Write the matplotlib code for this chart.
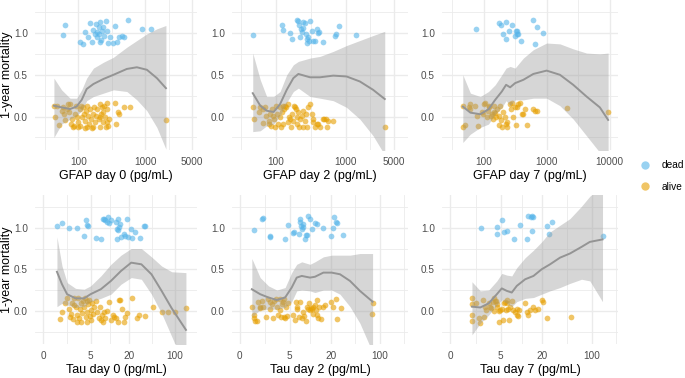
import numpy as np
import matplotlib
matplotlib.use("Agg")
import matplotlib.pyplot as plt
from matplotlib.lines import Line2D

plt.rcParams['font.family'] = ['Liberation Sans', 'DejaVu Sans']

# ---- data: (biomarker value, jittered outcome) ----
gfap0_dead = [(63, 1.09), (58, 0.98), (106, 0.89), (116, 0.87), (126, 1.01), (150, 1.12), (158, 0.89),
              (168, 1.04), (184, 1.11), (193, 1.01), (200, 0.99), (188, 0.95), (211, 1.13), (219, 0.92),
              (237, 1.07), (260, 1.14), (266, 1.02), (211, 0.89), (243, 0.97), (282, 0.88), (299, 0.95),
              (355, 1.08), (335, 0.88), (376, 0.89), (412, 0.95), (447, 0.96), (484, 0.95), (550, 1.15),
              (891, 1.05), (1216, 1.05), (202, 1.07), (226, 1.02), (178, 0.99), (141, 0.95)]
gfap0_alive = [(43, 0.13), (45, -0.01), (47, 0.13), (52, -0.10), (56, 0.07), (60, 0.03), (63, -0.04),
               (67, 0.09), (71, 0.15), (73, 0.05), (77, -0.09), (79, -0.03), (82, -0.13), (86, -0.11),
               (89, 0.03), (92, 0.13), (97, -0.07), (100, -0.13), (104, 0.09), (106, -0.11), (112, -0.01),
               (119, 0.11), (122, 0.03), (126, -0.05), (130, 0.07), (133, 0.13), (136, -0.13), (141, 0.01),
               (146, -0.09), (150, 0.09), (153, -0.03), (164, 0.03), (168, -0.13), (174, 0.12), (178, -0.07),
               (184, 0.01), (193, 0.09), (200, -0.03), (207, 0.15), (211, -0.13), (216, 0.03), (224, 0.11),
               (232, -0.06), (237, 0.05), (243, 0.13), (251, -0.01), (260, -0.13), (266, 0.16), (272, 0.09),
               (282, -0.11), (292, -0.03), (355, 0.16), (367, -0.09), (398, 0.05), (412, 0.03), (484, 0.12),
               (582, 0.11), (2042, -0.04), (158, -0.14), (108, 0.13), (126, -0.14), (94, 0.0), (75, 0.15),
               (58, 0.12), (211, 0.0), (266, -0.06)]
# smoother: (x, fit, lower, upper)
gfap0_smooth = [(43, 0.13, -0.25, 0.46), (56, 0.11, -0.09, 0.32), (75, 0.09, -0.03, 0.22), (94, 0.12, 0.01, 0.22),
                (112, 0.20, 0.07, 0.32), (133, 0.33, 0.19, 0.46), (168, 0.39, 0.24, 0.58), (237, 0.45, 0.28, 0.65),
                (335, 0.50, 0.32, 0.71), (531, 0.57, 0.30, 0.83), (750, 0.59, 0.20, 0.91), (1059, 0.56, 0.07, 0.99),
                (1496, 0.46, -0.13, 1.05), (2042, 0.34, -0.39, 1.09)]

gfap2_dead = [(46, 0.98), (121, 1.09), (125, 1.04), (159, 1.0), (168, 0.93), (202, 1.15), (209, 1.14), (216, 1.10),
              (226, 1.05), (233, 1.01), (221, 0.95), (247, 1.13), (261, 1.12), (270, 0.99), (275, 0.88), (291, 0.95),
              (301, 0.91), (308, 1.14), (325, 1.03), (344, 0.91), (363, 0.91), (384, 1.05), (405, 1.0), (419, 1.01),
              (478, 0.89), (703, 0.96), (726, 0.99), (811, 1.08), (1406, 0.98), (282, 0.93), (247, 1.06)]
gfap2_alive = [(47, 0.11), (48, -0.03), (56, 0.05), (59, 0.11), (64, -0.08), (70, 0.11), (72, 0.01), (78, -0.09),
               (80, -0.05), (84, -0.11), (87, 0.09), (90, 0.01), (94, -0.03), (97, -0.13), (100, 0.13), (104, 0.03),
               (108, -0.09), (112, 0.11), (114, -0.01), (117, -0.13), (121, 0.05), (125, 0.13), (130, 0.09),
               (135, 0.13), (139, 0.11), (146, -0.07), (150, 0.15), (155, -0.01), (159, -0.03), (162, -0.13),
               (168, 0.03), (173, -0.05), (181, 0.13), (187, 0.12), (194, 0.09), (198, -0.09), (202, -0.01),
               (209, 0.05), (216, -0.13), (221, -0.03), (233, 0.01), (241, -0.13), (247, 0.07), (261, -0.05),
               (270, 0.03), (275, -0.13), (291, 0.11), (308, 0.15), (325, 0.03), (336, -0.07), (344, -0.03),
               (363, -0.13), (384, -0.09), (405, -0.09), (428, -0.13), (467, -0.03), (489, -0.03), (522, -0.03),
               (546, -0.12), (564, -0.05), (665, -0.05), (3672, -0.12), (64, 0.09), (82, 0.03), (127, -0.09)]
gfap2_smooth = [(46, 0.28, -0.18, 0.76), (59, 0.13, -0.17, 0.44), (73, 0.07, -0.11, 0.24), (92, 0.055, -0.09, 0.24),
                (114, 0.15, 0.01, 0.30), (142, 0.32, 0.17, 0.50), (177, 0.46, 0.30, 0.62), (209, 0.51, 0.34, 0.66),
                (308, 0.47, 0.24, 0.70), (428, 0.47, 0.22, 0.72), (665, 0.49, 0.19, 0.78), (1034, 0.48, 0.11, 0.85),
                (1607, 0.42, -0.03, 0.91), (2495, 0.32, -0.23, 0.97), (3672, 0.21, -0.46, 1.02)]

gfap7_dead = [(77, 1.05), (179, 1.12), (188, 1.09), (228, 1.13), (207, 0.99), (228, 0.93), (257, 1.02), (280, 1.09),
              (316, 0.97), (336, 0.99), (344, 1.03), (357, 0.99), (388, 0.91), (616, 1.15), (695, 1.07), (654, 0.87),
              (886, 1.0), (328, 1.02)]
gfap7_alive = [(47, 0.13), (48, -0.13), (51, -0.10), (58, 0.12), (62, 0.15), (60, 0.09), (80, 0.01), (83, -0.11),
               (94, 0.05), (98, 0.03), (103, 0.15), (106, 0.16), (113, -0.01), (116, 0.07), (124, 0.13), (131, 0.01),
               (135, 0.03), (140, -0.03), (147, 0.13), (153, 0.04), (158, -0.01), (162, 0.09), (173, 0.01),
               (179, -0.10), (183, 0.13), (188, -0.04), (195, -0.13), (207, 0.05), (220, -0.01), (228, -0.09),
               (239, -0.06), (264, 0.15), (270, 0.09), (280, 0.16), (298, -0.01), (316, 0.11), (328, -0.10),
               (336, 0.12), (357, 0.15), (379, 0.16), (403, 0.03), (428, 0.03), (455, 0.09), (495, -0.10),
               (601, 0.09), (654, 0.07), (695, 0.07), (2069, 0.10), (9414, 0.06), (74, 0.13), (120, 0.11),
               (144, 0.05), (234, -0.13)]
gfap7_smooth = [(47, 0.12, -0.31, 0.50), (62, 0.047, -0.21, 0.28), (89, 0.028, -0.13, 0.24), (120, 0.087, -0.09, 0.30),
                (153, 0.20, 0.03, 0.38), (195, 0.30, 0.11, 0.50), (228, 0.38, 0.19, 0.58), (264, 0.35, 0.13, 0.60),
                (316, 0.40, 0.20, 0.58), (428, 0.44, 0.20, 0.70), (615, 0.51, 0.22, 0.80), (1000, 0.55, 0.22, 0.88),
                (1623, 0.50, 0.13, 0.87), (2637, 0.38, -0.03, 0.81), (4283, 0.24, -0.23, 0.76),
                (6960, 0.11, -0.43, 0.75), (9414, -0.04, -0.60, 0.76)]

tau0_dead = [(0.98, 1.02), (1.39, 1.06), (2.01, 1.0), (2.88, 1.0), (3.91, 0.90), (4.16, 1.09), (4.31, 1.03),
             (4.53, 1.02), (6.07, 0.88), (7.31, 0.86), (7.77, 1.11), (8.06, 1.11), (8.46, 1.09), (9.1, 1.07),
             (9.54, 1.13), (9.88, 1.06), (10.5, 1.09), (12.6, 1.07), (13.0, 0.86), (13.3, 1.10), (13.7, 0.97),
             (14.2, 1.01), (14.7, 1.04), (15.0, 0.89), (16.6, 0.92), (17.4, 0.90), (18.6, 1.11), (19.1, 0.89),
             (21.0, 0.98), (22.0, 0.88), (24.8, 0.95), (28.8, 0.88), (33.7, 1.02), (34.6, 1.02), (13.0, 0.99)]
tau0_alive = [(1.25, -0.10), (1.39, -0.01), (1.69, 0.09), (1.85, 0.15), (2.01, 0.02), (2.12, -0.08), (2.25, -0.04),
              (2.36, 0.09), (2.47, -0.10), (2.55, 0.07), (2.75, 0.04), (2.88, -0.05), (2.96, -0.13), (3.04, 0.15),
              (3.18, -0.09), (3.32, 0.02), (3.41, 0.09), (3.50, -0.13), (3.65, -0.03), (3.80, 0.12), (3.91, 0.05),
              (4.0, 0.15), (4.16, -0.07), (4.31, -0.01), (4.42, -0.14), (4.53, 0.08), (4.70, 0.13), (4.88, -0.06),
              (5.0, 0.01), (5.13, -0.11), (5.35, 0.09), (5.56, -0.04), (5.70, 0.05), (6.07, 0.12), (6.46, -0.01),
              (6.87, -0.09), (7.12, 0.05), (7.31, -0.11), (7.5, -0.05), (7.77, -0.14), (8.25, -0.01), (8.46, -0.09),
              (9.1, 0.0), (9.88, 0.11), (10.5, -0.11), (11.2, -0.05), (11.8, -0.07), (12.6, -0.09), (13.3, -0.13),
              (14.2, 0.13), (14.7, 0.13), (15.4, 0.02), (16.6, -0.13), (17.4, -0.08), (18.6, -0.03), (22.0, 0.15),
              (26.6, -0.09), (27.9, -0.05), (35.4, -0.06), (46.4, 0.04), (63.8, -0.01), (77.1, -0.01), (146, 0.03),
              (100, -0.01), (2.55, 0.15), (4.31, 0.12)]
tau0_smooth = [(0.98, 0.47, 0.05, 0.89), (1.39, 0.32, 0.09, 0.54), (1.85, 0.20, 0.07, 0.34), (2.75, 0.15, 0.04, 0.27),
               (3.91, 0.15, 0.05, 0.26), (5.0, 0.20, 0.11, 0.30), (7.31, 0.26, 0.15, 0.42), (10.5, 0.36, 0.20, 0.56),
               (15.0, 0.48, 0.32, 0.67), (21.5, 0.58, 0.40, 0.75), (30.7, 0.56, 0.38, 0.75), (43.7, 0.44, 0.20, 0.65),
               (62.3, 0.24, -0.03, 0.54), (88.8, 0.03, -0.31, 0.47), (146, -0.23, -0.70, 0.46)]

tau2_dead = [(0.95, 0.97), (1.60, 1.11), (1.68, 1.12), (2.30, 0.90), (2.36, 0.89), (4.15, 0.86), (4.76, 1.03),
             (5.69, 0.94), (5.80, 0.95), (7.0, 0.93), (7.16, 1.07), (7.40, 1.02), (7.58, 0.99), (7.84, 1.01),
             (8.02, 1.05), (8.48, 0.87), (8.76, 0.91), (8.96, 0.91), (9.48, 1.14), (10.0, 1.11), (10.6, 0.99),
             (11.8, 1.06), (12.5, 1.04), (15.6, 1.0), (19.9, 0.90), (21.2, 1.0), (22.2, 1.13), (23.7, 1.07),
             (24.2, 1.06), (29.5, 0.91), (7.16, 1.10)]
tau2_alive = [(0.83, 0.05), (0.95, -0.09), (1.0, -0.05), (1.07, -0.12), (1.20, -0.12), (1.25, 0.11), (1.41, 0.03),
              (1.46, 0.05), (1.60, 0.12), (1.74, 0.04), (1.98, -0.07), (2.20, 0.14), (2.30, 0.02), (2.36, 0.11),
              (2.54, 0.08), (2.72, -0.09), (2.80, 0.12), (3.03, 0.14), (3.11, 0.04), (3.20, -0.05), (3.45, 0.14),
              (3.53, 0.01), (3.63, -0.08), (3.77, 0.08), (3.92, 0.11), (4.01, -0.07), (4.10, 0.14), (4.24, -0.09),
              (4.39, 0.04), (4.60, -0.06), (4.76, 0.09), (5.69, -0.05), (6.02, -0.11), (6.24, 0.11), (6.38, 0.04),
              (6.54, 0.02), (7.0, -0.07), (7.16, 0.11), (7.58, -0.09), (7.84, -0.01), (8.2, -0.06), (8.76, -0.12),
              (9.16, 0.04), (9.48, 0.02), (9.80, 0.09), (10.0, 0.01), (10.2, 0.03), (10.6, 0.02), (11.0, -0.04),
              (11.2, 0.05), (11.8, 0.07), (12.2, 0.01), (12.5, -0.05), (12.8, 0.13), (13.2, -0.09), (13.7, 0.05),
              (14.3, -0.10), (15.3, 0.05), (16.5, 0.07), (19.9, 0.11), (21.7, 0.05), (23.7, 0.14), (24.8, -0.10),
              (27.6, 0.03), (76.3, -0.04), (78.8, 0.09)]
tau2_smooth = [(0.83, 0.26, -0.07, 0.63), (1.46, 0.20, 0.01, 0.40), (2.20, 0.16, 0.02, 0.30), (3.11, 0.13, 0.02, 0.25),
               (4.24, 0.16, 0.04, 0.28), (5.36, 0.28, 0.11, 0.46), (6.38, 0.40, 0.24, 0.56), (7.58, 0.42, 0.25, 0.59),
               (10.0, 0.40, 0.24, 0.56), (11.8, 0.41, 0.22, 0.59), (15.6, 0.46, 0.25, 0.65), (20.5, 0.46, 0.25, 0.67),
               (27.0, 0.44, 0.20, 0.67), (37.5, 0.36, 0.05, 0.67), (52.0, 0.24, -0.15, 0.69), (78.8, 0.11, -0.50, 0.69)]

tau7_dead = [(2.37, 1.0), (4.44, 1.01), (4.44, 0.93), (5.17, 1.09), (5.60, 0.95), (6.28, 0.96), (7.88, 0.86),
             (9.62, 1.03), (12.3, 0.86), (12.7, 1.14), (13.7, 1.13), (14.1, 0.96), (14.6, 1.13), (23.1, 1.02),
             (25.2, 0.93), (27.8, 1.07), (143, 0.90), (14.1, 1.14)]
tau7_alive = [(1.53, 0.15), (1.53, 0.08), (1.53, -0.05), (1.53, -0.12), (1.90, 0.09), (2.12, -0.09), (2.28, -0.15),
              (2.54, 0.13), (2.62, -0.08), (2.81, 0.04), (2.93, 0.01), (3.21, 0.09), (3.41, 0.05), (3.50, 0.03),
              (3.78, 0.11), (3.87, 0.15), (3.96, 0.0), (4.10, 0.12), (4.24, 0.12), (4.34, 0.05), (4.44, 0.08),
              (4.75, -0.14), (4.87, 0.01), (5.17, 0.02), (5.35, -0.11), (5.60, 0.09), (5.80, 0.11), (6.0, 0.01),
              (6.14, 0.09), (6.28, 0.13), (6.51, 0.02), (6.73, -0.11), (6.88, 0.05), (7.28, 0.12), (7.70, 0.01),
              (8.15, -0.01), (8.62, -0.05), (8.82, 0.02), (9.1, -0.06), (9.42, 0.01), (11.4, 0.09), (12.0, -0.01),
              (12.7, -0.05), (13.4, 0.01), (14.6, 0.05), (15.8, 0.01), (17.6, 0.02), (19.6, 0.13), (20.7, 0.11),
              (23.1, -0.09), (50.5, -0.08), (4.75, 0.0)]
tau7_smooth = [(1.53, 0.05, -0.29, 0.35), (2.28, 0.04, -0.15, 0.24), (3.21, 0.09, -0.05, 0.25), (4.34, 0.20, 0.07, 0.36),
               (5.17, 0.27, 0.13, 0.45), (6.14, 0.24, 0.09, 0.43), (7.28, 0.22, 0.05, 0.42), (8.62, 0.30, 0.11, 0.52),
               (11.4, 0.38, 0.15, 0.64), (15.0, 0.42, 0.16, 0.73), (19.6, 0.50, 0.20, 0.83), (25.8, 0.56, 0.24, 0.95),
               (35.7, 0.64, 0.28, 1.03), (49.4, 0.69, 0.33, 1.11), (72.2, 0.77, 0.38, 1.26), (94.6, 0.83, 0.36, 1.38),
               (143, 0.86, 0.11, 1.50)]

gfap_breaks_a = [100, 1000, 5000]
gfap_breaks_b = [100, 1000, 10000]
tau_breaks = [0, 5, 20, 100]

DEAD_COL = '#56B4E9'
ALIVE_COL = '#E69F00'
GRID_COL = '#EBEBEB'
W, H = 685, 378


def tau_fwd(x):
    return np.arcsinh(np.asarray(x, dtype=float) / 2.0)


def tau_inv(u):
    return 2.0 * np.sinh(np.asarray(u, dtype=float))


def px_rect(l, t, r, b):
    return [l / W, 1 - b / H, (r - l) / W, (b - t) / H]


def minor_between(major_t, lo_t, hi_t):
    m = list(major_t)
    ext = np.array([m[0] - (m[1] - m[0])] + m + [m[-1] + (m[-1] - m[-2])])
    mids = (ext[:-1] + ext[1:]) / 2
    return [v for v in mids if lo_t <= v <= hi_t]


panels = [
    # rect(px), label, kind, breaks, xlim, dead, alive, smooth, ylabel
    ((35, 0, 197, 150), "GFAP day 0 (pg/mL)", "log", gfap_breaks_a, (22.4, 5960), gfap0_dead, gfap0_alive, gfap0_smooth, True),
    ((232, 0, 408, 150), "GFAP day 2 (pg/mL)", "log", gfap_breaks_a, (23.1, 7940), gfap2_dead, gfap2_alive, gfap2_smooth, False),
    ((442, 0, 618, 150), "GFAP day 7 (pg/mL)", "log", gfap_breaks_b, (22.0, 13500), gfap7_dead, gfap7_alive, gfap7_smooth, False),
    ((35, 195, 197, 344), "Tau day 0 (pg/mL)", "tau", tau_breaks, (-0.6, 215), tau0_dead, tau0_alive, tau0_smooth, True),
    ((232, 195, 408, 344), "Tau day 2 (pg/mL)", "tau", tau_breaks, (-0.5, 252), tau2_dead, tau2_alive, tau2_smooth, False),
    ((442, 195, 618, 344), "Tau day 7 (pg/mL)", "tau", tau_breaks, (-0.55, 237), tau7_dead, tau7_alive, tau7_smooth, False),
]

fig = plt.figure(figsize=(W / 100, H / 100), dpi=100)

for rect, xlabel, kind, breaks, xlim, dead, alive, smooth, show_ylab in panels:
    ax = fig.add_axes(px_rect(*rect))
    if kind == "log":
        ax.set_xscale('log')
        fwd, inv = np.log10, lambda v: 10 ** np.asarray(v)
    else:
        ax.set_xscale('function', functions=(tau_fwd, tau_inv))
        fwd, inv = tau_fwd, tau_inv
    ax.set_xlim(*xlim)
    ax.set_ylim(-0.40, 1.395)

    d = np.array(dead).T
    a = np.array(alive).T
    s = np.array(smooth).T
    ax.scatter(d[0], d[1], s=17, color=DEAD_COL, alpha=0.6, linewidths=0, zorder=2)
    ax.scatter(a[0], a[1], s=17, color=ALIVE_COL, alpha=0.6, linewidths=0, zorder=2)
    ax.fill_between(s[0], s[2], s[3], color='#999999', alpha=0.4, linewidth=0, zorder=3)
    ax.plot(s[0], s[1], color='#949494', lw=1.4, zorder=4)

    # ggplot-like grid: majors at breaks, minors halfway in transformed space
    bt = list(fwd(np.array(breaks, dtype=float)))
    lo_t, hi_t = fwd(np.array(xlim, dtype=float))
    ax.set_xticks(breaks, [str(b) for b in breaks])
    ax.set_xticks(inv(np.array(minor_between(bt, lo_t, hi_t))), minor=True)
    ax.set_xticklabels([], minor=True)
    ax.set_yticks([0, 0.5, 1.0], ["0.0", "0.5", "1.0"])
    ax.set_yticks([-0.25, 0.25, 0.75, 1.25], minor=True)
    ax.grid(True, which='major', color=GRID_COL, lw=1.0)
    ax.grid(True, which='minor', color=GRID_COL, lw=0.6)
    ax.set_axisbelow(True)
    ax.tick_params(which='both', length=0)
    ax.tick_params(axis='both', labelsize=7.2, labelcolor='#4D4D4D', pad=5)
    for sp in ax.spines.values():
        sp.set_visible(False)

    ax.set_xlabel(xlabel, fontsize=9, labelpad=2)
    if show_ylab:
        ax.set_ylabel("1-year mortality", fontsize=9)
        ax.yaxis.set_label_coords(-22 / 162, 0.5)

handles = [Line2D([], [], marker='o', ls='', color=DEAD_COL, alpha=0.6, markersize=6, markeredgewidth=0),
           Line2D([], [], marker='o', ls='', color=ALIVE_COL, alpha=0.6, markersize=6, markeredgewidth=0)]
fig.legend(handles, ["dead", "alive"], loc='center left', bbox_to_anchor=(640 / W, 1 - 176 / H),
           frameon=False, fontsize=7.3, handlelength=1.0, handletextpad=1.1, labelspacing=1.1,
           borderpad=0, borderaxespad=0)

fig.savefig("out.png", dpi=100)
